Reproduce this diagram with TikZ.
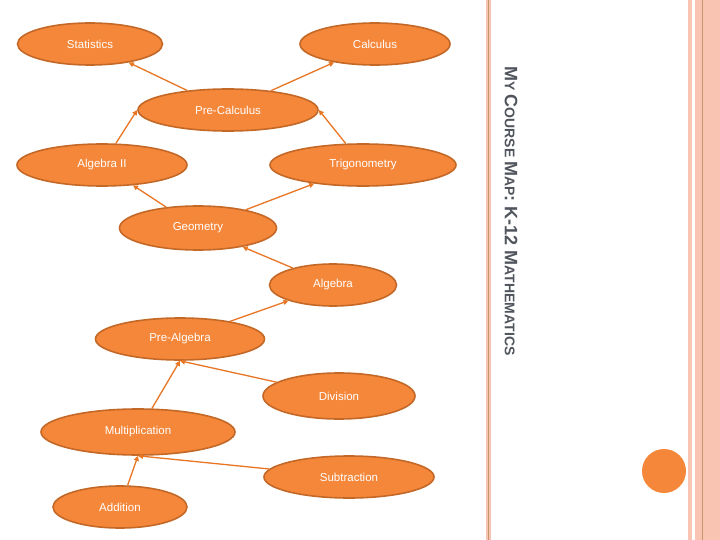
\documentclass[tikz,border=0pt]{standalone}
\usepackage{fontspec}
\setmainfont{Liberation Sans}
\usetikzlibrary{shapes.geometric,arrows.meta}
\definecolor{orfill}{RGB}{245,135,58}
\definecolor{ordraw}{RGB}{196,104,40}
\definecolor{orline}{RGB}{232,118,36}
\definecolor{pinkb}{RGB}{250,196,178}
\definecolor{brownl}{RGB}{196,150,110}
\definecolor{titleg}{RGB}{80,84,92}
\tikzset{
  course/.style={ellipse,fill=orfill,draw=ordraw,line width=1.6pt,text=white,
    font=\fontsize{11.5}{13}\selectfont,inner sep=0pt},
  arr/.style={draw=orline,line width=1.3pt,-{Triangle[length=5pt,width=5pt]}}
}
\begin{document}
\begin{tikzpicture}[x=1pt,y=-1pt]
\useasboundingbox (0,0) rectangle (720,540);
\fill[white] (0,0) rectangle (720,540);
% right decoration
\fill[pinkb] (486,0) rectangle (491,540);
\draw[brownl,line width=1pt] (488,0) -- (488,540);
\fill[pinkb] (688,0) rectangle (692,540);
\fill[pinkb] (695,0) rectangle (720,540);
\draw[brownl,line width=1pt] (702,0) -- (702,540);
\node[circle,fill=orfill,minimum size=44pt,inner sep=0pt] (dot) at (664,471) {};
% title
\node[rotate=-90,text=titleg,font=\bfseries,inner sep=0pt] (title) at (511,211)
 {\fontsize{18}{20}\selectfont M\fontsize{14}{16}\selectfont Y \fontsize{18}{20}\selectfont C\fontsize{14}{16}\selectfont OURSE \fontsize{18}{20}\selectfont M\fontsize{14}{16}\selectfont AP\fontsize{18}{20}\selectfont : K-12 M\fontsize{14}{16}\selectfont ATHEMATICS};
% nodes
\node[course,minimum width=145pt,minimum height=42pt] (stat) at (90,44) {Statistics};
\node[course,minimum width=150pt,minimum height=42pt] (calc) at (375,44) {Calculus};
\node[course,minimum width=180pt,minimum height=42pt] (prec) at (228,110) {Pre-Calculus};
\node[course,minimum width=170pt,minimum height=42pt] (alg2) at (102,165) {Algebra II};
\node[course,minimum width=186pt,minimum height=42pt] (trig) at (363,165) {Trigonometry};
\node[course,minimum width=157pt,minimum height=44pt] (geo) at (198,228) {Geometry};
\node[course,minimum width=127pt,minimum height=42pt] (alg) at (333,285) {Algebra};
\node[course,minimum width=169pt,minimum height=42pt] (prea) at (180,339) {Pre-Algebra};
\node[course,minimum width=152pt,minimum height=46pt] (div) at (339,396) {Division};
\node[course,minimum width=194pt,minimum height=46pt] (mult) at (138,432) {Multiplication};
\node[course,minimum width=170pt,minimum height=42pt] (sub) at (349,477) {Subtraction};
\node[course,minimum width=134pt,minimum height=42pt] (add) at (120,507) {Addition};
% connectors
\draw[arr] (prec) -- (stat);
\draw[arr] (prec) -- (calc);
\draw[arr] (alg2) -- (prec.west);
\draw[arr] (trig) -- (prec.east);
\draw[arr] (geo) -- (alg2);
\draw[arr] (geo) -- (trig);
\draw[arr] (alg) -- (geo);
\draw[arr] (prea) -- (alg);
\draw[arr] (div) -- (prea.south);
\draw[arr] (mult) -- (prea.south);
\draw[arr] (sub) -- (mult.south);
\draw[arr] (add) -- (mult.south);
\end{tikzpicture}
\end{document}
